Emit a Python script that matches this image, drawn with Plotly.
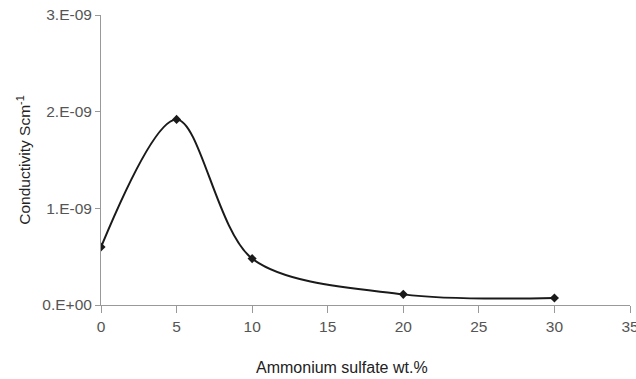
import plotly.graph_objects as go

x_vals = [0, 5, 10, 20, 30]
y_vals = [0.60e-9, 1.92e-9, 0.48e-9, 0.11e-9, 0.073e-9]
y_tickvals = [0, 1e-9, 2e-9, 3e-9]
y_ticktext = ["0.E+00", "1.E-09", "2.E-09", "3.E-09"]
x_tickvals = [0, 5, 10, 15, 20, 25, 30, 35]

fig = go.Figure()
fig.add_trace(go.Scatter(
    x=x_vals, y=y_vals, mode="lines+markers",
    line=dict(color="#1a1a1a", width=2, shape="spline", smoothing=0.9),
    marker=dict(symbol="diamond", size=7, color="#1a1a1a"),
    showlegend=False,
))

font = dict(family="Liberation Sans, Arial, sans-serif", size=15.5, color="#555555")
fig.update_layout(
    width=636, height=379,
    margin=dict(l=101, r=6, t=15, b=74),
    plot_bgcolor="white", paper_bgcolor="white",
    font=font,
    xaxis=dict(
        range=[0, 35], tickvals=x_tickvals, showgrid=False, zeroline=False,
        showline=True, linecolor="#999999", linewidth=1,
        ticks="outside", ticklen=7, tickcolor="#999999",
        automargin=False, ticklabeloverflow="allow",
    ),
    yaxis=dict(
        range=[0, 3e-9], tickvals=y_tickvals, ticktext=y_ticktext,
        showgrid=False, zeroline=False,
        showline=True, linecolor="#999999", linewidth=1,
        ticks="outside", ticklen=5, tickcolor="#999999",
        automargin=False,
        title=dict(text="Conductivity Scm<sup>-1</sup>", font=dict(size=15.5, color="#222222"), standoff=7),
    ),
    annotations=[dict(
        text="Ammonium sulfate wt.%", xref="paper", yref="paper",
        x=0.456, y=-0.217, xanchor="center", yanchor="middle", showarrow=False,
        font=dict(size=16, color="#222222"),
    )],
)
fig.write_html("out.html")
